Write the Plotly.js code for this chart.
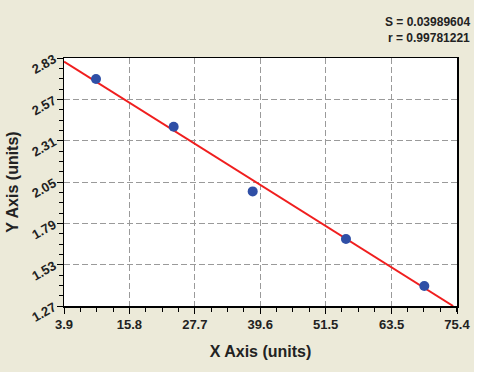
<!DOCTYPE html>
<html><head><meta charset="utf-8">
<script src="https://cdn.plot.ly/plotly-3.0.1.min.js"></script>
<style>html,body{margin:0;padding:0;background:#ffffff;}#chart{width:474px;height:372px;}</style>
</head><body><div id="chart"></div>
<script>
const pointsX = [9.72, 23.85, 38.23, 55.2, 69.45];
const pointsY = [2.698, 2.398, 1.991, 1.691, 1.396];
const fitX = [3.9, 74.7];
const fitY = [2.807, 1.27];
const xTicks = [3.9, 15.8, 27.7, 39.6, 51.5, 63.5, 75.4];
const xTickText = ["3.9", "15.8", "27.7", "39.6", "51.5", "63.5", "75.4"];
const yTicks = [1.27, 1.53, 1.79, 2.05, 2.31, 2.57, 2.83];
const yTickText = ["1.27", "1.53", "1.79", "2.05", "2.31", "2.57", "2.83"];
const statS = "S = 0.03989604";
const statR = "r = 0.99781221";

const tickFont = {family: "Liberation Sans, Arial, sans-serif", size: 13, color: "#222", weight: "bold"};
const titleFont = {family: "Liberation Sans, Arial, sans-serif", size: 16, color: "#222", weight: "bold"};
const statFont = {family: "Liberation Sans Narrow, Liberation Sans, Arial", size: 12, color: "#222", weight: "bold"};

const traces = [
  {x: fitX, y: fitY, mode: "lines", line: {color: "#f01e1e", width: 2}, hoverinfo: "skip"},
  {x: pointsX, y: pointsY, mode: "markers", marker: {color: "#2f4fa6", size: 10, line: {width: 0}}}
];
const gridStyle = {showgrid: true, gridcolor: "#9a9a9a", griddash: "6px,3px", gridwidth: 1};
const layout = {
  width: 474, height: 372,
  paper_bgcolor: "#ecead9", plot_bgcolor: "#ffffff",
  showlegend: false,
  margin: {l: 64, r: 17, t: 58, b: 66},
  xaxis: Object.assign({
    range: [3.9, 75.4], tickmode: "array", tickvals: xTicks, ticktext: xTickText,
    ticks: "outside", ticklen: 6, tickwidth: 1, tickcolor: "#000",
    showline: true, linecolor: "#000", linewidth: 1.5, mirror: true, zeroline: false,
    tickfont: tickFont,
    minor: {tick0: 3.9, dtick: (xTicks[1] - xTicks[0]) / 4, ticks: "outside", ticklen: 4, tickcolor: "#000", showgrid: false},
    title: {text: "X Axis (units)", font: titleFont, standoff: 14}
  }, gridStyle),
  yaxis: Object.assign({
    range: [1.27, 2.83], tickmode: "array", tickvals: yTicks, ticktext: yTickText,
    ticks: "outside", ticklen: 6, tickwidth: 1, tickcolor: "#000",
    showline: true, linecolor: "#000", linewidth: 1.5, mirror: true, zeroline: false,
    tickfont: tickFont, tickangle: -30,
    minor: {tick0: 1.27, dtick: (yTicks[1] - yTicks[0]) / 4, ticks: "outside", ticklen: 4, tickcolor: "#000", showgrid: false},
    title: {text: "Y Axis (units)", font: titleFont, standoff: 6}
  }, gridStyle),
  annotations: [
    {xref: "paper", yref: "paper", x: 1.038, y: 1.145, xanchor: "right", yanchor: "middle", showarrow: false,
     text: statS, font: statFont},
    {xref: "paper", yref: "paper", x: 1.038, y: 1.081, xanchor: "right", yanchor: "middle", showarrow: false,
     text: statR, font: statFont}
  ]
};
Plotly.newPlot("chart", traces, layout, {displayModeBar: false, staticPlot: true});
</script></body></html>
